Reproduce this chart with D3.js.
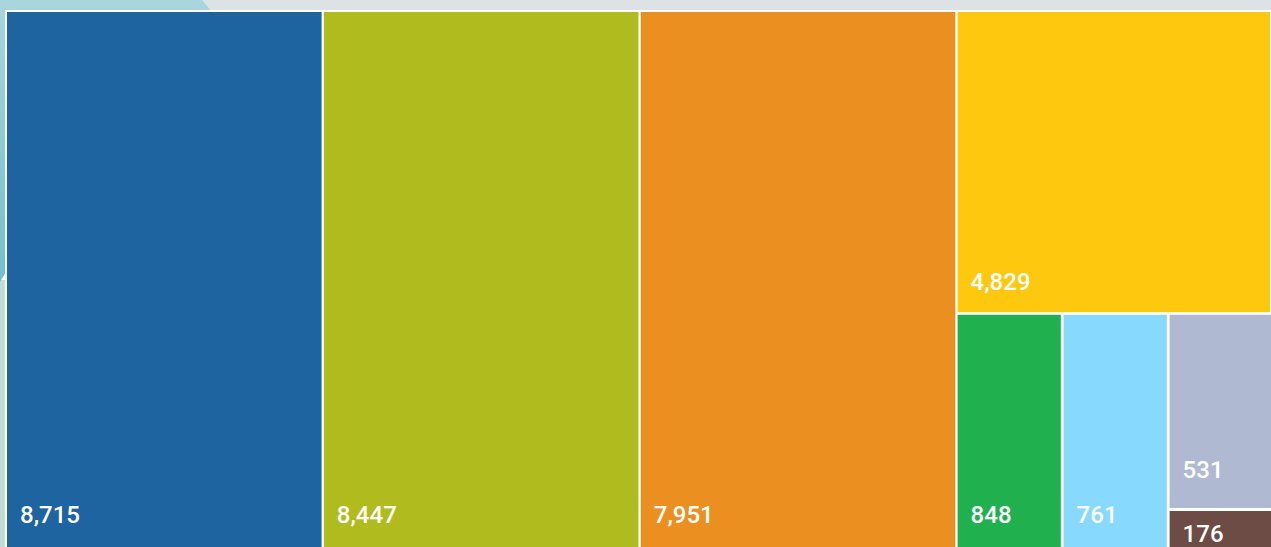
<!DOCTYPE html>
<html>
<head>
<meta charset="utf-8">
<script src="https://cdn.jsdelivr.net/npm/d3@7"></script>
<style>
  body { margin: 0; background: #fff; }
  svg { display: block; }
</style>
</head>
<body>
<svg id="chart" width="1271" height="547"></svg>
<script>
// values shown in the treemap
var bigValues = [8715, 8447, 7951];
var bigColors = ["#1d64a0", "#b0bc1e", "#ec8f21"];
var sideTop = 4829;
var sideTopColor = "#fec80e";
var smallValues = [848, 761, 531];
var smallColors = ["#20b04e", "#88d9fe", "#b0b9d2"];
var tinyValue = 176;
var tinyColor = "#6c4c44";

var W = 1271, H = 547;
var svg = d3.select("#chart");
var fmt = d3.format(",");

// background deco
svg.append("rect").attr("width", W).attr("height", 12).attr("fill", "#dde3e4");
var grad = svg.append("defs").append("linearGradient").attr("id", "tealg")
  .attr("x1", 0).attr("y1", 0).attr("x2", 0).attr("y2", 1);
grad.append("stop").attr("offset", "0%").attr("stop-color", "#a9d6dc");
grad.append("stop").attr("offset", "100%").attr("stop-color", "#72bfcc");
svg.append("rect").attr("x", 0).attr("y", 280).attr("width", 6).attr("height", H - 280).attr("fill", "#c2dcd6");
svg.append("path").attr("d", "M0,0 L202,0 L212,12 L6,12 L6,272 L0,282 Z").attr("fill", "url(#tealg)");
svg.append("rect").attr("x", 5).attr("y", 10).attr("width", W - 5).attr("height", H - 10).attr("fill", "#fff");

var top0 = 12, bottom = H + 2, right = 1270;

// four columns
var cols = d3.scaleBand().domain(d3.range(4)).range([7, right + 2.2]).paddingInner(0.0072);
var cells = [];
bigValues.forEach(function (v, i) {
  cells.push({ v: v, c: bigColors[i], x0: cols(i), x1: cols(i) + cols.bandwidth(), y0: top0, y1: bottom });
});

// right column: top block and bottom row
var sx0 = cols(3), sx1 = right;
var ySplit = d3.scaleLinear().domain([0, 1]).range([top0, bottom]);
var yMid = ySplit(0.559);
cells.push({ v: sideTop, c: sideTopColor, x0: sx0, x1: sx1, y0: top0, y1: yMid });

var row = d3.scaleBand().domain(d3.range(3)).range([sx0, sx1 + 2.8]).paddingInner(0.0265);
smallValues.forEach(function (v, i) {
  var c = { v: v, c: smallColors[i], x0: row(i), x1: row(i) + row.bandwidth(), y0: yMid + 2.6, y1: bottom };
  cells.push(c);
});
var last = cells[cells.length - 1];
var ySub = d3.scaleLinear().domain([0, 1]).range([last.y0, bottom]);
var yCut = ySub(0.825);
last.y1 = yCut;
cells.push({ v: tinyValue, c: tinyColor, x0: last.x0, x1: last.x1, y0: yCut + 3, y1: bottom });

var g = svg.selectAll("g.cell").data(cells).enter().append("g").attr("class", "cell");
g.append("rect")
  .attr("x", function (d) { return d.x0; })
  .attr("y", function (d) { return d.y0; })
  .attr("width", function (d) { return d.x1 - d.x0; })
  .attr("height", function (d) { return d.y1 - d.y0; })
  .attr("fill", function (d) { return d.c; });
g.append("text")
  .attr("x", function (d) { return d.x0 + 13; })
  .attr("y", function (d) {
    var b = d.y1 >= H ? H - 24 : d.y1 - (d.x1 - d.x0 < 150 ? 30 : 22);
    return Math.min(H - 5, Math.max(d.y0 + 31, b));
  })
  .attr("fill", "#fff")
  .style("font-family", "Roboto, sans-serif")
  .style("font-weight", 500)
  .style("font-size", "24px")
  .text(function (d) { return fmt(d.v); });
</script>
</body>
</html>
